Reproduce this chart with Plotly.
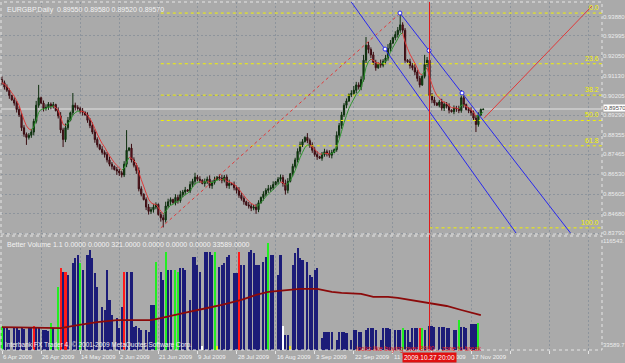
import plotly.graph_objects as go

# ---------------- data ----------------
first_open_pips = 9095
closes_pips = [
    9080, 9060, 9045, 9020, 9000, 8985,
    8955, 8930, 8870, 8840, 8825, 8835,
    8850, 8900, 8975, 9010, 8985, 8960,
    8965, 8980, 8970, 8978, 8950, 8925,
    8860, 8815, 8870, 8905, 8940, 8975,
    8965, 8960, 8948, 8942, 8930, 8905,
    8880, 8850, 8815, 8790, 8770, 8755,
    8745, 8720, 8700, 8690, 8675, 8668,
    8660, 8650, 8700, 8765, 8775, 8720,
    8695, 8670, 8585, 8560, 8535, 8500,
    8480, 8488, 8500, 8512, 8465, 8450,
    8440, 8505, 8525, 8535, 8520, 8545,
    8530, 8558, 8570, 8580, 8575, 8605,
    8620, 8640, 8630, 8625, 8610, 8618,
    8630, 8600, 8615, 8628, 8640, 8635,
    8625, 8640, 8600, 8610, 8605, 8590,
    8578, 8555, 8540, 8525, 8510, 8505,
    8495, 8500, 8488, 8520, 8545, 8560,
    8578, 8585, 8590, 8605, 8618, 8630,
    8638, 8610, 8578, 8620, 8655, 8690,
    8720, 8760, 8790, 8805, 8825, 8810,
    8790, 8765, 8745, 8735, 8728, 8745,
    8758, 8750, 8742, 8755, 8768, 8835,
    8880, 8930, 8975, 8995, 9025, 9030,
    9045, 9070, 9060, 9095, 9185, 9255,
    9235, 9210, 9175, 9150, 9170, 9162,
    9180, 9195, 9240, 9265, 9290, 9305,
    9325, 9350, 9325, 9185, 9178, 9160,
    9150, 9130, 9100, 9070, 9110, 9165,
    9185, 9020, 9000, 8985, 8975, 8990,
    8962, 8980, 8970, 8952, 8945, 8962,
    8958, 8950, 9010, 8978, 8955, 8950,
    8940, 8915, 8885, 8930, 8955, 8957,
]
up_wick_pips = [
    15, 10, 12, 8, 4, 12,
    10, 14, 9, 12, 8, 10,
    15, 12, 20, 60, 5, 12,
    14, 10, 8, 12, 4, 15,
    18, 10, 20, 15, 5, 57,
    12, 10, 8, 14, 4, 12,
    10, 15, 12, 10, 5, 14,
    10, 12, 15, 10, 4, 12,
    10, 8, 14, 94, 5, 20,
    12, 10, 15, 12, 4, 10,
    14, 12, 15, 10, 5, 12,
    15, 20, 14, 10, 4, 15,
    12, 18, 10, 14, 4, 15,
    12, 20, 10, 14, 5, 15,
    12, 18, 10, 14, 4, 12,
    15, 10, 12, 18, 4, 14,
    10, 15, 12, 10, 5, 14,
    12, 10, 15, 12, 4, 14,
    10, 18, 12, 15, 4, 10,
    14, 12, 18, 15, 4, 12,
    10, 14, 15, 12, 5, 20,
    10, 12, 14, 15, 4, 12,
    14, 10, 15, 12, 5, 18,
    12, 14, 10, 12, 5, 15,
    20, 14, 12, 15, 25, 38,
    15, 10, 14, 12, 5, 18,
    10, 15, 20, 14, 5, 15,
    15, 55, 12, 10, 5, 14,
    12, 18, 10, 12, 5, 45,
    15, 10, 12, 14, 4, 10,
    15, 12, 10, 14, 4, 12,
    10, 15, 36, 14, 5, 12,
    15, 10, 14, 12, 5, 1,
]
dn_wick_pips = [
    10, 12, 8, 15, 4, 12,
    14, 10, 15, 12, 35, 10,
    12, 15, 10, 12, 5, 14,
    10, 12, 14, 10, 4, 12,
    15, 35, 12, 10, 5, 12,
    14, 10, 12, 15, 4, 12,
    12, 10, 15, 12, 5, 10,
    14, 12, 10, 15, 4, 18,
    15, 12, 10, 14, 5, 12,
    10, 15, 12, 10, 4, 14,
    15, 12, 14, 10, 5, 18,
    35, 12, 10, 15, 4, 12,
    14, 10, 12, 15, 4, 10,
    12, 14, 10, 12, 4, 15,
    10, 12, 15, 10, 4, 12,
    14, 10, 12, 15, 4, 12,
    15, 12, 10, 14, 5, 12,
    14, 10, 20, 12, 4, 15,
    10, 12, 14, 10, 4, 12,
    12, 15, 20, 14, 5, 12,
    10, 12, 15, 10, 4, 12,
    14, 12, 10, 15, 4, 12,
    10, 14, 12, 15, 4, 10,
    12, 15, 10, 14, 5, 12,
    10, 14, 12, 15, 10, 14,
    18, 15, 12, 14, 5, 12,
    10, 14, 12, 15, 5, 12,
    14, 12, 15, 12, 5, 14,
    12, 15, 14, 12, 5, 10,
    12, 15, 14, 12, 4, 10,
    12, 14, 10, 15, 4, 12,
    14, 12, 10, 15, 4, 12,
    14, 12, 35, 10, 5, 3,
]
vol_k = [
    48.7, 47.1, 47.1, 45.5, 8, 47.1,
    47.1, 45.5, 47.1, 46.3, 8, 47.9,
    47.9, 48.7, 47.1, 47.1, 8, 45.5,
    45.5, 44.8, 51.1, 47.1, 8, 79.8,
    95.0, 91.8, 91.8, 89.4, 8, 99.0,
    103.0, 105.4, 99.0, 93.4, 8, 105.4,
    109.4, 103.0, 91.0, 79.8, 8, 63.9,
    61.5, 93.4, 69.5, 57.5, 8, 55.1,
    47.1, 63.9, 91.8, 91.8, 8, 91.8,
    47.9, 48.7, 47.1, 45.5, 8, 45.5,
    44.0, 65.5, 65.5, 99.8, 8, 91.8,
    85.4, 107.8, 93.4, 93.4, 8, 93.4,
    91.8, 95.0, 95.0, 93.4, 8, 69.5,
    103.8, 103.8, 97.4, 91.8, 33.0, 107.8,
    107.8, 107.8, 105.4, 107.8, 33.0, 95.8,
    97.4, 99.0, 103.8, 105.4, 8, 91.0,
    91.0, 107.8, 97.4, 97.4, 8, 107.8,
    109.4, 107.0, 97.4, 97.4, 8, 99.8,
    103.8, 114.9, 105.4, 105.4, 8, 89.4,
    105.4, 48.7, 41.6, 41.6, 33.0, 97.4,
    107.0, 111.0, 103.0, 101.4, 8, 99.8,
    89.4, 87.8, 93.4, 95.0, 8, 39.2,
    44.0, 44.0, 44.0, 44.0, 8, 37.6,
    44.0, 44.0, 44.0, 43.2, 8, 37.6,
    45.5, 45.5, 44.0, 44.0, 8, 45.5,
    47.1, 47.1, 47.1, 45.5, 8, 37.6,
    47.1, 47.1, 47.1, 46.3, 8, 45.5,
    45.5, 45.5, 47.1, 45.5, 45.5, 36.0,
    47.1, 47.1, 47.1, 47.1, 47.1, 45.5,
    8, 48.7, 48.7, 47.9, 8, 47.9,
    47.9, 47.9, 47.1, 47.1, 8, 45.5,
    45.5, 53.5, 47.9, 47.9, 47.1, 8,
    50.3, 50.3, 50.3, 51.1, 8, 0.321,
]
vol_kind = "".join([
    "gnnnsn", "nnnnsn", "nrnnsn", "nngnsg", "rnrnsn", "nngnsn",
    "nnnnsn", "nnnnsn", "nnrnsn", "nnnnsn", "nnngsn", "ngnnsg",
    "gnnnsn", "nnnnwn", "nnngyn", "nnnnsn", "nrnnsn", "nnnnsn",
    "ngnnsn", "nwnnyn", "nnnnsn", "nnnnsn", "nnnnsn", "nnnnsn",
    "nnnnsn", "nnnnsn", "nnnnsn", "nngnnn", "nnnrgn", "snnnsn",
    "nnnnsn", "ngnnns", "nnngss",
])
vol_ma_idx = [0, 20, 24, 31, 39, 47, 61, 65, 70, 76, 84, 90, 98, 104, 109,
              114, 122, 129, 135, 139, 147, 152, 158, 162, 169, 176, 182, 188, 194, 196]
vol_ma_k = [47.9, 47.1, 47.1, 49.5, 51.9, 53.5, 53.5, 55.1, 57.5, 59.9, 63.1, 65.5, 69.5, 73.5, 75.9,
            76.7, 78.3, 78.3, 75.9, 75.1, 74.3, 71.9, 71.9, 71.1, 68.7, 66.3, 64.7, 61.5, 58.3, 57.5]

date_tick_idx = [0, 16, 32, 48, 64, 80, 96, 112, 128, 144, 160, 176, 192]
date_tick_text = ["6 Apr 2009", "26 Apr 2009", "14 May 2009", "2 Jun 2009", "21 Jun 2009",
                  "9 Jul 2009", "28 Jul 2009", "16 Aug 2009", "3 Sep 2009", "22 Sep 2009",
                  "11 Oct 2009", "29 Oct 2009", "17 Nov 2009"]
price_ticks = [0.93880, 0.92995, 0.92050, 0.91130, 0.90205, 0.89290,
               0.88355, 0.87465, 0.86530, 0.85605, 0.84680, 0.83790]
vol_ticks = [116543.0, 33589.7]
vol_tick_text = ["116543.", "33589.7"]

fib_high, fib_low = 0.9405, 0.8403
fib_high_idx, fib_low_idx = 163, 65
fib_levels = [0.0, 23.6, 38.2, 50.0, 61.8, 100.0]
fib_line_start_idx = [65, 65, 65, 65, 65, 175]

channel_a_idx, channel_a_price = [142.4, 210.4], [0.9466, 0.8379]
channel_b_idx, channel_b_price = [162.9, 232.7], [0.9405, 0.8379]
channel_pt_idx = [156.8, 162.9, 174.8, 188.3]
channel_pt_price = [0.9237, 0.9405, 0.9230, 0.9032]
proj_idx, proj_price = [197.3, 241.5], [0.8914, 0.9438]
cursor_idx, cursor_label = 175, "2009.10.27 20:00"
last_price = 0.89570

header_text = "EURGBP,Daily  0.89550 0.89580 0.89520 0.89570"
vol_header = "Better Volume 1.1 0.0000 0.0000 321.0000 0.0000 0.0000 0.0000 33589.0000"
copyright_text = "Interbank FX Trader 4, \u00a9 2001-2009 MetaQuotes Software Corp."
note_text = "looks like buying over 8900 .. zone to break"

# ---------------- derived ----------------
n = len(closes_pips)
idx = list(range(n))
closes = [c / 10000 for c in closes_pips]
opens = [first_open_pips / 10000] + closes[:-1]
opens[-1] = 0.89550
highs = [max(o, c) + u / 10000 for o, c, u in zip(opens, closes, up_wick_pips)]
lows = [min(o, c) - d / 10000 for o, c, d in zip(opens, closes, dn_wick_pips)]
vols = [v * 1000 for v in vol_k]
vol_ma = [v * 1000 for v in vol_ma_k]
kind_color = {"n": "#1c1c78", "s": "#1c1c78", "r": "#ff1a1a", "g": "#22ee22",
              "w": "#ffffff", "y": "#f0e020"}
vol_colors = [kind_color[k] for k in vol_kind]

# EMA of closes for the coloured trend line
alpha = 2 / (5 + 1)
ema = []
e = closes[0]
for c in closes:
    e = e + alpha * (c - e)
    ema.append(e)
gx, gy, rx, ry = [], [], [], []
for i in range(1, n):
    if ema[i] >= ema[i - 1]:
        gx += [i - 1, i, None]; gy += [ema[i - 1], ema[i], None]
    else:
        rx += [i - 1, i, None]; ry += [ema[i - 1], ema[i], None]

X_RANGE = [-0.41, 245.6]
Y_RANGE = [0.83743, 0.94566]
V_RANGE = [29600, 120530]
TOP_DOM = [0.3333, 1.0]
VOL_DOM = [0.0, 0.3276]
BG = "#aaaaaa"
GRID = "#8d949c"
TXT = "#f2f2f2"
FONT = "Liberation Sans"

fig = go.Figure()

# fib lines
for lvl, xs in zip(fib_levels, fib_line_start_idx):
    p = fib_high - (fib_high - fib_low) * lvl / 100
    fig.add_trace(go.Scatter(x=[xs, X_RANGE[1]], y=[p, p], mode="lines",
                             line=dict(color="#f2f200", width=1, dash="dot"),
                             hoverinfo="skip", showlegend=False))
# fib trend (red dotted)
fig.add_trace(go.Scatter(x=[fib_low_idx, fib_high_idx], y=[fib_low, fib_high], mode="lines",
                         line=dict(color="#e03a3a", width=1, dash="dot"),
                         hoverinfo="skip", showlegend=False))
# candles
fig.add_trace(go.Candlestick(
    x=idx, open=opens, high=highs, low=lows, close=closes,
    increasing=dict(line=dict(color="#0e2e0e", width=1), fillcolor="#105a10"),
    decreasing=dict(line=dict(color="#3a0d12", width=1), fillcolor="#7c1a2a"),
    whiskerwidth=0, hoverinfo="skip", showlegend=False))
# trend MA
fig.add_trace(go.Scatter(x=gx, y=gy, mode="lines", line=dict(color="#2f942f", width=1),
                         hoverinfo="skip", showlegend=False))
fig.add_trace(go.Scatter(x=rx, y=ry, mode="lines", line=dict(color="#e03a3a", width=1),
                         hoverinfo="skip", showlegend=False))
# channel
fig.add_trace(go.Scatter(x=channel_a_idx, y=channel_a_price, mode="lines",
                         line=dict(color="#2828ee", width=1), hoverinfo="skip", showlegend=False))
fig.add_trace(go.Scatter(x=channel_b_idx, y=channel_b_price, mode="lines",
                         line=dict(color="#2828ee", width=1), hoverinfo="skip", showlegend=False))
fig.add_trace(go.Scatter(x=channel_pt_idx, y=channel_pt_price, mode="markers",
                         marker=dict(size=4, color="#ffffff", line=dict(color="#2828ee", width=1)),
                         hoverinfo="skip", showlegend=False))
# projection
fig.add_trace(go.Scatter(x=proj_idx, y=proj_price, mode="lines",
                         line=dict(color="#e03a3a", width=1), hoverinfo="skip", showlegend=False))

# volume
fig.add_trace(go.Bar(x=idx, y=vols, marker=dict(color=vol_colors, line=dict(width=0)),
                     width=0.85, xaxis="x2", yaxis="y2", hoverinfo="skip", showlegend=False))
fig.add_trace(go.Scatter(x=vol_ma_idx, y=vol_ma, mode="lines", line=dict(color="#8b0a0a", width=1.8),
                         xaxis="x2", yaxis="y2", hoverinfo="skip", showlegend=False))

grid_idx = list(range(0, 246, 16))
axis_common = dict(range=X_RANGE, showgrid=True, gridcolor=GRID, griddash="2px,2px", gridwidth=1,
                   tickvals=grid_idx, showticklabels=False, zeroline=False, showline=False)

shapes = [
    dict(type="line", xref="paper", x0=0, x1=1, yref="y", y0=last_price, y1=last_price,
         line=dict(color="#c6c6c6", width=2), layer="below"),
    dict(type="line", xref="x", x0=cursor_idx, x1=cursor_idx, yref="paper", y0=0, y1=1,
         line=dict(color="#e01818", width=1)),
    dict(type="rect", xref="paper", x0=0, x1=1, yref="paper", y0=TOP_DOM[0], y1=TOP_DOM[1],
         line=dict(color="#e6e6e6", width=1, dash="dot")),
    dict(type="rect", xref="paper", x0=0, x1=1, yref="paper", y0=VOL_DOM[0], y1=VOL_DOM[1],
         line=dict(color="#e6e6e6", width=1, dash="dot")),
]

ann = []
f = lambda size, color=TXT: dict(family=FONT, size=size, color=color)
ann.append(dict(text=header_text, x=0.006, y=0.995, xref="paper", yref="paper",
                xanchor="left", yanchor="top", showarrow=False, font=f(7)))
ann.append(dict(text=vol_header, x=0.006, y=VOL_DOM[1] - 0.008, xref="paper", yref="paper",
                xanchor="left", yanchor="top", showarrow=False, font=f(7)))
ann.append(dict(text=copyright_text, x=0.004, y=0.014, xref="paper", yref="paper",
                xanchor="left", yanchor="middle", showarrow=False, font=f(6.5)))
for lvl in fib_levels:
    p = fib_high - (fib_high - fib_low) * lvl / 100
    ann.append(dict(text=f"{lvl:.1f}", x=0.998, y=p, xref="paper", yref="y",
                    xanchor="right", yanchor="bottom", showarrow=False, font=f(7, "#f2f200")))
for ti, tt in zip(date_tick_idx, date_tick_text):
    ann.append(dict(text=tt, x=ti, y=-0.021, xref="x2", yref="paper", xanchor="left",
                    yanchor="middle", showarrow=False, font=f(6), xshift=-1))
ann.append(dict(text=note_text, x=353 / 601, y=0.002, xref="paper", yref="paper",
                xanchor="left", yanchor="middle", showarrow=False, font=f(6.5, "#e01818")))
ann.append(dict(text=cursor_label, x=cursor_idx, y=-0.021, xref="x2", yref="paper",
                xanchor="center", yanchor="middle", showarrow=False, font=f(6.5, "#ffffff"),
                bgcolor="#e01010", borderpad=1))
ann.append(dict(text=f"{last_price:.5f}", x=1.0, y=last_price, xref="paper", yref="y",
                xanchor="left", yanchor="middle", showarrow=False, font=f(6, "#505050"),
                bgcolor="#ffffff", borderpad=0, xshift=1, yshift=1))

fig.update_layout(
    width=625, height=363, margin=dict(l=1, r=23, t=2, b=13),
    paper_bgcolor=BG, plot_bgcolor=BG, showlegend=False, hovermode=False,
    bargap=0,
    xaxis=dict(anchor="y", domain=[0, 1], rangeslider=dict(visible=False), **axis_common),
    xaxis2=dict(anchor="y2", domain=[0, 1], matches="x", ticks="outside", ticklen=3,
                tickcolor="#e6e6e6", **axis_common),
    yaxis=dict(domain=TOP_DOM, range=Y_RANGE, side="right", tickvals=price_ticks,
               ticktext=[f"{p:.5f}" for p in price_ticks], showgrid=True, gridcolor=GRID,
               griddash="2px,2px", zeroline=False, tickfont=f(6, "#ececec"), ticks=""),
    yaxis2=dict(domain=VOL_DOM, range=V_RANGE, side="right", tickvals=vol_ticks,
                ticktext=vol_tick_text, showgrid=False, zeroline=False,
                tickfont=f(6, "#ececec"), ticks=""),
    shapes=shapes, annotations=ann,
)

fig.write_html("out.html")
